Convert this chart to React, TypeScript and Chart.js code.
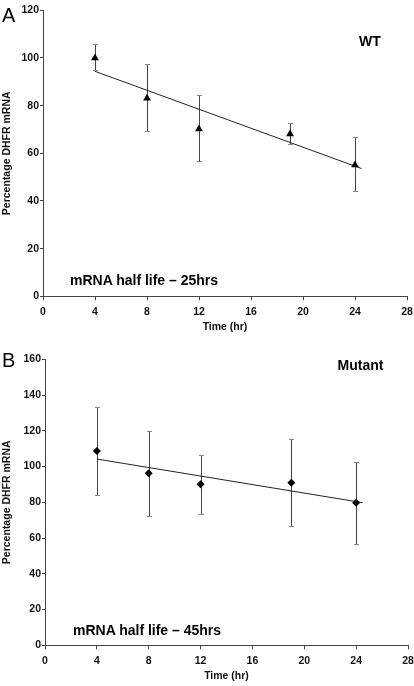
import React, { useEffect, useRef } from "react";
import { Chart, registerables } from "chart.js";

Chart.register(...registerables);

// ---------- data ----------
const times = [4, 8, 12, 19, 24];
const xTicks = [0, 4, 8, 12, 16, 20, 24, 28];

// Panel A (WT)
const wtMean = [100, 83.1, 70.2, 68.1, 55.1];
const wtHigh = [105.7, 97.3, 84.3, 72.9, 66.8];
const wtLow = [94.8, 69.5, 56.9, 63.9, 44.3];
const wtTrendX = [4, 24.5];
const wtTrendY = [94.4, 53.6];
const wtYMax = 120;

// Panel B (Mutant)
const mutMean = [108.7, 96.2, 90.1, 91.0, 79.8];
const mutHigh = [133.5, 120.1, 106.3, 115.6, 102.4];
const mutLow = [83.9, 72.3, 73.6, 66.6, 56.7];
const mutTrendX = [4, 24.5];
const mutTrendY = [104.2, 79.8];
const mutYMax = 160;

const yStep = 20;
const xTitle = "Time (hr)";
const yTitle = "Percentage DHFR mRNA";

const FONT = "'Liberation Sans', Arial, Helvetica, sans-serif";

type PanelProps = {
  top: number;
  height: number;
  areaTop: number;
  areaBottom: number;
  areaLeft: number;
  areaRight: number;
  mean: number[];
  high: number[];
  low: number[];
  trendX: number[];
  trendY: number[];
  yMax: number;
  marker: string;
  markerRadius: number;
};

function Panel(p: PanelProps) {
  const ref = useRef<HTMLCanvasElement | null>(null);
  useEffect(() => {
    if (!ref.current) return;
    const errorBars = {
      id: "errorBars",
      beforeDatasetsDraw(chart: any) {
        const ctx = chart.ctx;
        const xs = chart.scales.x;
        const ys = chart.scales.y;
        ctx.save();
        times.forEach((t, i) => {
          const px = Math.round(xs.getPixelForValue(t)) + 0.5;
          const yh = Math.round(ys.getPixelForValue(p.high[i])) + 0.5;
          const yl = Math.round(ys.getPixelForValue(p.low[i])) + 0.5;
          ctx.lineWidth = 1;
          ctx.strokeStyle = "#444";
          ctx.beginPath();
          ctx.moveTo(px, yh);
          ctx.lineTo(px, yl);
          ctx.stroke();
          ctx.strokeStyle = "#888";
          ctx.beginPath();
          ctx.moveTo(px - 2.5, yh);
          ctx.lineTo(px + 2.5, yh);
          ctx.moveTo(px - 2.5, yl);
          ctx.lineTo(px + 2.5, yl);
          ctx.stroke();
        });
        ctx.restore();
      },
    };
    const chart = new Chart(ref.current, {
      type: "scatter",
      data: {
        datasets: [
          {
            data: times.map((t, i) => ({ x: t, y: p.mean[i] })),
            pointStyle: p.marker as any,
            pointRadius: p.markerRadius,
            backgroundColor: "#000",
            borderColor: "#000",
            borderWidth: 0,
            showLine: false,
          },
          {
            data: p.trendX.map((t, i) => ({ x: t, y: p.trendY[i] })),
            showLine: true,
            pointRadius: 0,
            borderColor: "#222",
            borderWidth: 1,
          },
        ],
      },
      options: {
        animation: false,
        responsive: false,
        devicePixelRatio: 1,
        layout: {
          padding: {
            top: p.areaTop,
            right: 414 - p.areaRight,
            bottom: 0,
            left: 0,
          },
        },
        plugins: {
          legend: { display: false },
          tooltip: { enabled: false },
        },
        scales: {
          x: {
            type: "linear",
            min: 0,
            max: 28,
            afterBuildTicks: (s: any) => {
              s.ticks = xTicks.map((v) => ({ value: v }));
            },
            afterFit: (s: any) => {
              s.height = p.height - p.areaBottom;
              s.paddingLeft = 0;
              s.paddingRight = 0;
            },
            ticks: {
              color: "#111",
              padding: 6,
              font: { family: FONT, size: 10.5, weight: "bold" },
              maxRotation: 0,
            },
            grid: {
              drawOnChartArea: false,
              drawTicks: true,
              tickLength: 4,
              color: "#444",
            },
            border: { display: true, color: "#444" },
            title: {
              display: true,
              text: xTitle,
              color: "#111",
              font: { family: FONT, size: 10.5, weight: "bold" },
              padding: { top: 2, bottom: 4 },
            },
          },
          y: {
            type: "linear",
            min: 0,
            max: p.yMax,
            ticks: {
              stepSize: yStep,
              color: "#111",
              padding: 1,
              font: { family: FONT, size: 10.5, weight: "bold" },
            },
            afterFit: (s: any) => {
              s.width = p.areaLeft;
              s.paddingTop = 0;
              s.paddingBottom = 0;
            },
            grid: {
              drawOnChartArea: false,
              drawTicks: true,
              tickLength: 3,
              color: "#444",
            },
            border: { display: true, color: "#444" },
            title: {
              display: true,
              text: yTitle,
              color: "#111",
              font: { family: FONT, size: 10.5, weight: "bold" },
              padding: { top: 1, bottom: 1 },
            },
          },
        },
      },
      plugins: [errorBars],
    } as any);
    return () => chart.destroy();
  }, []);
  return (
    <canvas
      ref={ref}
      width={414}
      height={p.height}
      style={{ position: "absolute", left: 0, top: p.top, width: 414, height: p.height }}
    />
  );
}

function Label(props: { text: string; left: number; top: number; size: number; bold?: boolean }) {
  return (
    <div
      style={{
        position: "absolute",
        left: props.left,
        top: props.top,
        fontFamily: FONT,
        fontSize: props.size,
        fontWeight: props.bold ? "bold" : "normal",
        lineHeight: 1,
        whiteSpace: "nowrap",
        color: "#000",
      }}
    >
      {props.text}
    </div>
  );
}

export default function App() {
  return (
    <div
      style={{
        position: "fixed",
        left: 0,
        top: 0,
        width: 414,
        height: 686,
        background: "#fff",
        overflow: "hidden",
      }}
    >
      <Panel
        top={0}
        height={337}
        areaTop={10.3}
        areaBottom={296.3}
        areaLeft={43}
        areaRight={407}
        mean={wtMean}
        high={wtHigh}
        low={wtLow}
        trendX={wtTrendX}
        trendY={wtTrendY}
        yMax={wtYMax}
        marker="triangle"
        markerRadius={4.5}
      />
      <Panel
        top={337}
        height={349}
        areaTop={22.3}
        areaBottom={308.3}
        areaLeft={45}
        areaRight={408}
        mean={mutMean}
        high={mutHigh}
        low={mutLow}
        trendX={mutTrendX}
        trendY={mutTrendY}
        yMax={mutYMax}
        marker="rectRot"
        markerRadius={4}
      />
      <Label text="A" left={2} top={4.7} size={20} />
      <Label text="WT" left={359} top={34.2} size={14} bold />
      <Label text="mRNA half life – 25hrs" left={70} top={273.2} size={14} bold />
      <Label text="B" left={2} top={349.5} size={20} />
      <Label text="Mutant" left={337.5} top={358.2} size={14} bold />
      <Label text="mRNA half life – 45hrs" left={73} top={623.2} size={14} bold />
    </div>
  );
}
